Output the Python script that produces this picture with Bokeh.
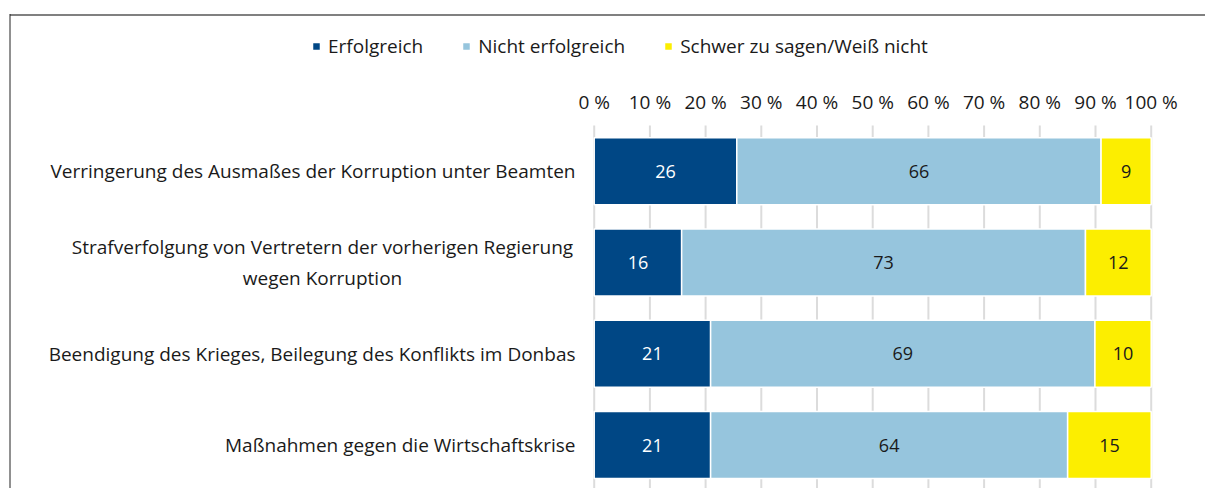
from bokeh.plotting import figure
from bokeh.models import ColumnDataSource, Range1d, Legend, LegendItem
from bokeh.core.properties import value
from bokeh.embed import file_html
from bokeh.resources import INLINE

categories = [
    "Verringerung des Ausmaßes der Korruption unter Beamten",
    "Strafverfolgung von Vertretern der vorherigen Regierung\nwegen Korruption",
    "Beendigung des Krieges, Beilegung des Konflikts im Donbas",
    "Maßnahmen gegen die Wirtschaftskrise",
]
series_names = ["Erfolgreich", "Nicht erfolgreich", "Schwer zu sagen/Weiß nicht"]
# bar lengths
erfolgreich = [25.6, 15.7, 20.9, 20.9]
nicht_erfolgreich = [65.4, 72.5, 69.0, 64.1]
weiss_nicht = [9.0, 11.8, 10.1, 15.0]
# printed labels
lab_erfolgreich = ["26", "16", "21", "21"]
lab_nicht = ["66", "73", "69", "64"]
lab_weiss = ["9", "12", "10", "15"]
tick_values = [0, 10, 20, 30, 40, 50, 60, 70, 80, 90, 100]
tick_labels = ["0 %", "10 %", "20 %", "30 %", "40 %", "50 %", "60 %", "70 %", "80 %", "90 %", "100 %"]

colors = ["#004785", "#96C5DD", "#FCEE00"]
FONT = "Open Sans"
TXT = "#1a1a1a"

W, H = 1205, 488
X0_PX, X100_PX = 593.7, 1150.7          # where 0 % and 100 % fall
PX_PER_UNIT = (X100_PX - X0_PX) / 100.0
ROW_PX = 91.3                            # distance between bar centres
FIRST_ROW_PX = 170.7                     # centre of first bar


def xpx(px):
    return (px - X0_PX) / PX_PER_UNIT


def ypx(py):
    return (py - FIRST_ROW_PX) / ROW_PX


ypos = list(range(len(categories)))
src = ColumnDataSource(dict(y=ypos, a=erfolgreich, b=nicht_erfolgreich, c=weiss_nicht))

p = figure(width=W, height=H, output_backend="svg", toolbar_location=None,
           x_range=Range1d(xpx(0), xpx(W)), y_range=Range1d(ypx(H), ypx(0)),
           min_border=0, x_axis_location=None, y_axis_location=None)
p.outline_line_color = None
p.xgrid.visible = False
p.ygrid.visible = False

grid_top = ypx(125)
grid_bottom = ypx(H + 5)
p.segment(x0=tick_values, x1=tick_values, y0=[grid_top] * len(tick_values),
          y1=[grid_bottom] * len(tick_values), line_color="#dcdcdc", line_width=2)

rs = p.hbar_stack(["a", "b", "c"], y="y", height=0.734, color=colors, source=src,
                  line_color="white", line_width=1.5)

# tick labels along the top
p.text(x=tick_values, y=[ypx(101)] * len(tick_values), text=tick_labels,
       text_align="center", text_baseline="middle", text_color=TXT,
       text_font=value(FONT), text_font_size="19px")

# value labels
starts_b = erfolgreich
starts_c = [a + b for a, b in zip(erfolgreich, nicht_erfolgreich)]
x_a = [v / 2 for v in erfolgreich]
x_b = [s + v / 2 for s, v in zip(starts_b, nicht_erfolgreich)]
x_c = [s + v / 2 for s, v in zip(starts_c, weiss_nicht)]
for xs, labs, col in [(x_a, lab_erfolgreich, "white"), (x_b, lab_nicht, TXT), (x_c, lab_weiss, TXT)]:
    p.text(x=xs, y=ypos, text=labs, text_align="center", text_baseline="middle",
           text_color=col, text_font=value(FONT), text_font_size="18px")

# category labels
single = [i for i, c in enumerate(categories) if "\n" not in c]
multi = [i for i, c in enumerate(categories) if "\n" in c]
p.text(x=[xpx(575)] * len(single), y=[ypos[i] for i in single], text=[categories[i] for i in single],
       text_align="right", text_baseline="middle", text_color=TXT,
       text_font=value(FONT), text_font_size="19px")
p.text(x=[xpx(322)] * len(multi), y=[ypos[i] for i in multi], text=[categories[i] for i in multi],
       text_align="center", text_baseline="middle", text_color=TXT, text_line_height=1.2,
       text_font=value(FONT), text_font_size="19px")

# frame box (top and left edge)
p.segment(x0=[xpx(9.5)], y0=[ypx(14.5)], x1=[xpx(W + 5)], y1=[ypx(14.5)],
          line_color="#808080", line_width=2)
p.segment(x0=[xpx(9.5)], y0=[ypx(13.5)], x1=[xpx(9.5)], y1=[ypx(H + 5)],
          line_color="#222222", line_width=1)

legend = Legend(items=[LegendItem(label=n, renderers=[r]) for n, r in zip(series_names, rs)],
                orientation="horizontal", location=(311, H - 59),
                glyph_width=10, glyph_height=10, label_standoff=7, spacing=38,
                padding=0, margin=0, border_line_color=None, background_fill_alpha=0,
                label_text_font=FONT, label_text_font_size="19px", label_text_color=TXT)
p.add_layout(legend, "center")

open("out.html", "w").write(file_html(p, INLINE))
